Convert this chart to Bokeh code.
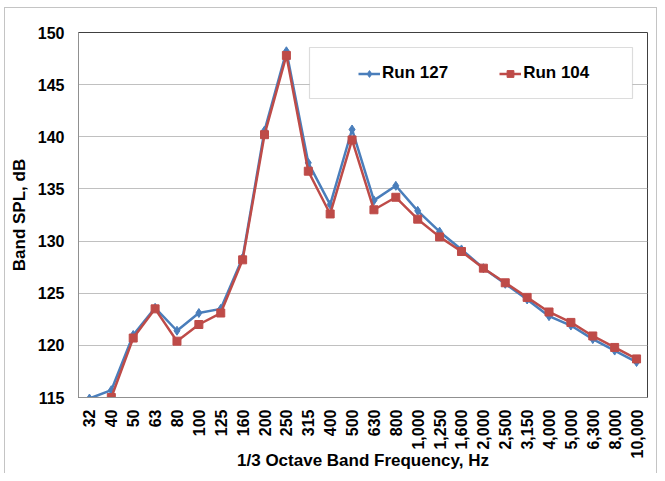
import math
from bokeh.plotting import figure
from bokeh.models import FactorRange, Range1d, Legend, LegendItem, BoxAnnotation, ColumnDataSource
from bokeh.embed import file_html
from bokeh.resources import INLINE

freqs = ["32", "40", "50", "63", "80", "100", "125", "160", "200", "250", "315", "400",
         "500", "630", "800", "1,000", "1,250", "1,600", "2,000", "2,500", "3,150",
         "4,000", "5,000", "6,300", "8,000", "10,000"]
run127 = [114.9, 115.7, 121.0, 123.6, 121.4, 123.1, 123.5, 128.4, 140.6, 148.2, 137.5, 133.5,
          140.7, 133.9, 135.3, 132.9, 130.9, 129.2, 127.4, 125.9, 124.4, 122.8, 121.9, 120.6,
          119.5, 118.4]
run104 = [float("nan"), 115.0, 120.7, 123.5, 120.4, 122.0, 123.1, 128.2, 140.2, 147.8, 136.7, 132.6,
          139.7, 133.0, 134.2, 132.1, 130.4, 129.0, 127.4, 126.0, 124.6, 123.2, 122.2, 120.9,
          119.8, 118.7]
y_ticks = [115, 120, 125, 130, 135, 140, 145, 150]

BLUE = "#4a7ebb"
RED = "#be4b48"
FONT = "Liberation Sans"
EDGE = "#c4c4c4"

src = ColumnDataSource(dict(f=freqs, a=run127, b=run104))

p = figure(x_range=FactorRange(*freqs), y_range=Range1d(115, 150),
           width=657, height=473, output_backend="svg", toolbar_location=None,
           min_border_left=78, min_border_right=10, min_border_top=32, min_border_bottom=75)
p.border_fill_alpha = 0
p.background_fill_color = "white"
grad = f"linear-gradient({EDGE}, {EDGE})"
p.styles = {
    "background-color": "white",
    "background-image": f"{grad}, {grad}, {grad}",
    "background-position": "4px 7px, 4px 7px, 656px 7px",
    "background-size": "1px 100%, 653px 1px, 1px 100%",
    "background-repeat": "no-repeat",
}

l1 = p.line("f", "a", source=src, line_color=BLUE, line_width=2.5)
s1 = p.scatter("f", "a", source=src, marker="diamond", size=9, fill_color=BLUE, line_color=BLUE)
l2 = p.line("f", "b", source=src, line_color=RED, line_width=2.5)
s2 = p.scatter("f", "b", source=src, marker="square", size=8, fill_color=RED, line_color=RED)

p.outline_line_color = "#404040"
p.outline_line_width = 1
p.xgrid.visible = False
p.ygrid.grid_line_color = "#c0c0c0"
p.ygrid.grid_line_width = 1

p.yaxis.ticker = y_ticks
for ax in (p.xaxis, p.yaxis):
    ax.major_tick_out = 0
    ax.major_tick_in = 0
    ax.minor_tick_out = 0
    ax.minor_tick_in = 0
    ax.axis_line_color = "#909090"
    ax.major_label_text_font = FONT
    ax.major_label_text_font_style = "bold"
    ax.major_label_text_font_size = "16px"
    ax.major_label_text_color = "#000000"
    ax.axis_label_text_font = FONT
    ax.axis_label_text_font_style = "bold"
    ax.axis_label_text_font_size = "17px"
    ax.axis_label_text_color = "#000000"

p.xaxis.major_label_orientation = math.pi / 2
p.xaxis.major_label_standoff = 12
p.xaxis.axis_label = "1/3 Octave Band Frequency, Hz"
p.xaxis.axis_label_standoff = -10
p.yaxis.major_label_standoff = 14
p.yaxis.axis_label = "Band SPL, dB"
p.yaxis.axis_label_standoff = 6

box = BoxAnnotation(left=231, right=554, top=350, bottom=299,
                    left_units="screen", right_units="screen", top_units="screen", bottom_units="screen",
                    fill_color="white", fill_alpha=1, line_color="#8c8c8c", line_width=1.2)
p.add_layout(box)

legend = Legend(items=[LegendItem(label="Run 127", renderers=[l1, s1]),
                       LegendItem(label="Run 104", renderers=[l2, s2])],
                orientation="horizontal", location=(275, 309), padding=5, margin=0,
                spacing=51, glyph_width=22, glyph_height=17, label_standoff=2,
                label_text_font=FONT, label_text_font_style="bold", label_text_font_size="17px",
                label_text_color="#000000", border_line_alpha=0, background_fill_alpha=0)
p.add_layout(legend)

open("out.html", "w").write(file_html(p, INLINE))
